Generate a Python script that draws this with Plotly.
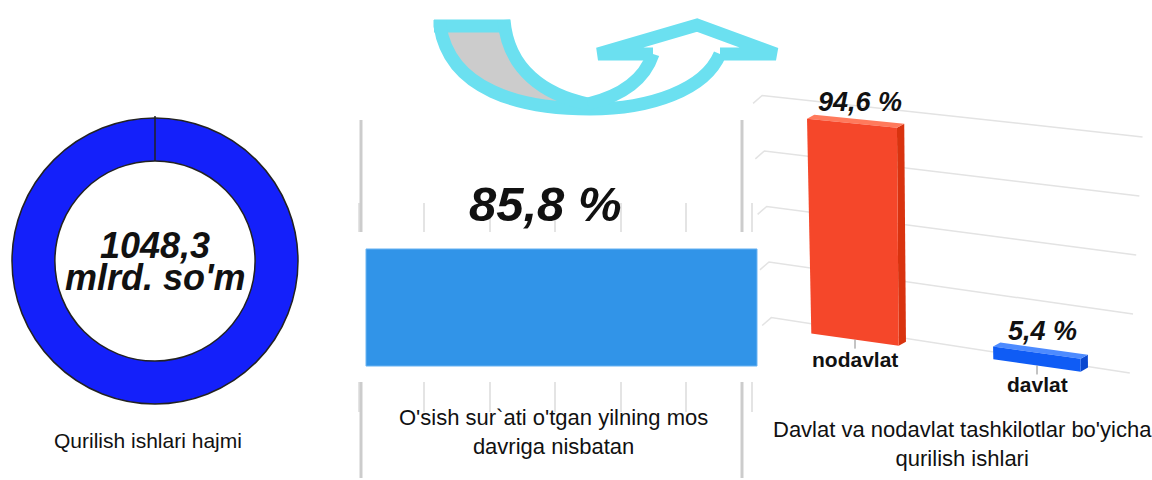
import plotly.graph_objects as go

W, H = 1152, 480
FONT = "Arial, 'Liberation Sans', sans-serif"

# data
total_volume = 1048.3
volume_unit = "mlrd. so'm"
growth_rate = 85.8
org_types = ["nodavlat", "davlat"]
org_shares = [94.6, 5.4]
grid_levels = [0, 25, 50, 75, 100]
caption_volume = "Qurilish ishlari hajmi"
caption_growth = "O'sish sur`ati o'tgan yilning mos<br>davriga nisbatan"
caption_orgs = "Davlat va nodavlat tashkilotlar bo'yicha<br>qurilish ishlari"

bar_colors = ["#F5472A", "#0F5CF5"]
side_colors = ["#D9330F", "#0A48D0"]
top_colors = ["#FF7A5C", "#4D8BFF"]


def fmt(v):
    return f"{v:.1f}".replace(".", ",")


fig = go.Figure()

# donut
fig.add_trace(go.Pie(
    values=[total_volume], labels=[caption_volume], hole=0.7, sort=False,
    marker=dict(colors=["#1420FA"], line=dict(color="#222222", width=1.5)),
    textinfo="none", hoverinfo="value", showlegend=False,
    domain=dict(x=[12 / W, 298 / W], y=[1 - 408 / H, 1 - 114 / H]),
))

# growth bar (middle)
mid_scale = 4.557  # px per unit
mid_x0 = 366
fig.add_trace(go.Bar(
    x=[growth_rate], y=[0], orientation="h", width=0.56,
    marker=dict(color="#3194E8", line=dict(color="#6AB4F2", width=1)),
    hoverinfo="x", showlegend=False, xaxis="x", yaxis="y",
))
# empty traces so the grid-only strips get drawn
for ax in ["4", "5"]:
    fig.add_trace(go.Scatter(x=[None], y=[None], mode="lines", hoverinfo="skip", showlegend=False,
                             xaxis="x" + ax, yaxis="y" + ax))

# pseudo-3d bars (right)
PX_X, PX_Y = 182.0, 2.25
X0_PX, Y0_PX = 855, 334


def slope(v):
    return (0.142 - 0.045 * v / 100) * PX_X / PX_Y


gx, gy = [], []
for v in grid_levels:
    l = -0.46 - 0.05 * v / 100
    r = 1.51 + 0.07 * v / 100
    gx += [l - 0.05, l, r, None]
    gy += [v - slope(v) * l - 1.5, v - slope(v) * l + 2.0, v - slope(v) * r, None]
fig.add_trace(go.Scatter(x=gx, y=gy, mode="lines", line=dict(color="#E3E3E3", width=1.5),
                         hoverinfo="skip", showlegend=False, xaxis="x2", yaxis="y2"))

off, hscale, hw, dx, dy = -2.5, 1.015, 0.24, 0.04, 1.8
for k, (name, v) in enumerate(zip(org_types, org_shares)):
    top = off + v * hscale
    lean = -0.025 * v / 100
    xl_b, xr_b = k - hw, k + hw
    xl_t, xr_t = xl_b + lean, xr_b + lean * 0.4
    s0, s1 = slope(0), slope(v)
    yb_l, yb_r = off - s0 * xl_b, off - s0 * xr_b
    yt_l, yt_r = top - s1 * xl_t, top - s1 * xr_t
    # side face
    fig.add_trace(go.Scatter(
        x=[xr_b, xr_t, xr_t + dx, xr_b + dx, xr_b],
        y=[yb_r, yt_r, yt_r + dy, yb_r + dy, yb_r],
        fill="toself", fillcolor=side_colors[k], mode="lines", line=dict(width=0, color=side_colors[k]),
        hoverinfo="skip", showlegend=False, xaxis="x2", yaxis="y2"))
    # top face
    fig.add_trace(go.Scatter(
        x=[xl_t, xr_t, xr_t + dx, xl_t + dx, xl_t],
        y=[yt_l, yt_r, yt_r + dy, yt_l + dy, yt_l],
        fill="toself", fillcolor=top_colors[k], mode="lines", line=dict(width=0, color=top_colors[k]),
        hoverinfo="skip", showlegend=False, xaxis="x2", yaxis="y2"))
    # front face
    fig.add_trace(go.Scatter(
        x=[xl_b, xl_t, xr_t, xr_b, xl_b],
        y=[yb_l, yt_l, yt_r, yb_r, yb_l],
        fill="toself", fillcolor=bar_colors[k], mode="lines", line=dict(width=0, color=bar_colors[k]),
        name=name, text=fmt(v) + " %", hoverinfo="name+text", showlegend=False, xaxis="x2", yaxis="y2"))
    # tick under bar
    yb_c = off - s0 * k
    fig.add_trace(go.Scatter(x=[k, k], y=[yb_c, yb_c - 4], mode="lines",
                             line=dict(color="#888888", width=1), hoverinfo="skip",
                             showlegend=False, xaxis="x2", yaxis="y2"))
    fig.add_annotation(x=k + 0.03, y=top - s1 * k, xref="x2", yref="y2", text=f"<b><i>{fmt(v)} %</i></b>",
                       showarrow=False, yanchor="bottom", yshift=5, font=dict(size=27, color="#111111", family=FONT))
    fig.add_annotation(x=k, y=yb_c, xref="x2", yref="y2", text=f"<b>{name}</b>",
                       showarrow=False, yanchor="top", yshift=-6, font=dict(size=21, color="#111111", family=FONT))

# decorations in pixel space (x3/y3)
CYAN = "#6BE0F0"
shapes = [
    dict(type="path", path="M 440,26 L 503,26 C 510,70 545,95 588,104 L 590,109 C 520,109 450,90 440,26 Z",
         fillcolor="#CCCCCC", line=dict(width=0)),
    dict(type="path", path="M 434,26 L 510,26", line=dict(color=CYAN, width=13)),
    dict(type="path", path="M 440,20 L 440,26 C 450,90 520,109 590,109 C 650,109 705,90 720,54",
         line=dict(color=CYAN, width=13)),
    dict(type="path", path="M 504,20 C 508,70 545,95 588,104", line=dict(color=CYAN, width=13)),
    dict(type="path", path="M 588,104 C 625,95 645,78 653,54", line=dict(color=CYAN, width=13)),
    dict(type="path", path="M 653,54 L 598,54 L 697,25 L 776,54 L 720,54", line=dict(color=CYAN, width=13)),
    # frame lines
    dict(type="line", x0=361, x1=361, y0=120, y1=232, line=dict(color="#CCCCCC", width=3)),
    dict(type="line", x0=361, x1=361, y0=382, y1=478, line=dict(color="#CCCCCC", width=3)),
    dict(type="line", x0=742, x1=742, y0=120, y1=232, line=dict(color="#CCCCCC", width=3)),
    dict(type="line", x0=742, x1=742, y0=382, y1=478, line=dict(color="#CCCCCC", width=3)),
    # donut start line
    dict(type="line", x0=155, x1=155, y0=116, y1=161, line=dict(color="#222222", width=1.5)),
]
for s in shapes:
    s.update(xref="x3", yref="y3", layer="above")
    fig.add_shape(**s)

ann = [
    dict(x=155, y=245, text=f"<b><i>{fmt(total_volume)}</i></b>", size=36),
    dict(x=155, y=277, text=f"<b><i>{volume_unit}</i></b>", size=36),
    dict(x=545, y=204, text=f"<b><i>{fmt(growth_rate)} %</i></b>", size=49),
    dict(x=148, y=440, text=caption_volume, size=21),
    dict(x=553, y=432, text=caption_growth, size=22),
    dict(x=962, y=444, text=caption_orgs, size=22),
]
for a in ann:
    fig.add_annotation(x=a["x"], y=a["y"], xref="x3", yref="y3", text=a["text"], showarrow=False,
                       font=dict(size=a["size"], color="#111111", family=FONT))

mid_range = [(350 - mid_x0) / mid_scale, (758 - mid_x0) / mid_scale]
grid_axis = dict(domain=[350 / W, 758 / W], range=mid_range, showgrid=True, gridcolor="#E4E4E4", gridwidth=2,
                 tick0=(358.5 - mid_x0) / mid_scale, dtick=65.5 / mid_scale, showticklabels=False,
                 zeroline=False, ticks="", showline=False, fixedrange=True)

fig.update_layout(
    width=W, height=H, margin=dict(l=0, r=0, t=0, b=0),
    paper_bgcolor="white", plot_bgcolor="rgba(0,0,0,0)", showlegend=False,
    font=dict(family=FONT),
    xaxis=dict(domain=[350 / W, 758 / W], range=mid_range, visible=False, fixedrange=True),
    yaxis=dict(domain=[1 - 412 / H, 1 - 203 / H], range=[-0.5, 0.5], visible=False, fixedrange=True),
    xaxis2=dict(domain=[0, 1], range=[-X0_PX / PX_X, (W - X0_PX) / PX_X], visible=False, anchor="y2"),
    yaxis2=dict(domain=[0, 1], range=[(Y0_PX - H) / PX_Y, Y0_PX / PX_Y], visible=False, anchor="x2"),
    xaxis3=dict(domain=[0, 1], range=[0, W], visible=False, anchor="y3"),
    yaxis3=dict(domain=[0, 1], range=[H, 0], visible=False, anchor="x3"),
    # grid-only strips of the middle chart, above and below the bar
    xaxis4=dict(grid_axis, anchor="y4"),
    yaxis4=dict(domain=[1 - 232 / H, 1 - 203 / H], range=[0, 1], visible=False, anchor="x4"),
    xaxis5=dict(grid_axis, anchor="y5"),
    yaxis5=dict(domain=[1 - 412 / H, 1 - 382 / H], range=[0, 1], visible=False, anchor="x5"),
)

fig.write_html("out.html", config={"displayModeBar": False},
               post_script="document.body.style.margin='0px';")
